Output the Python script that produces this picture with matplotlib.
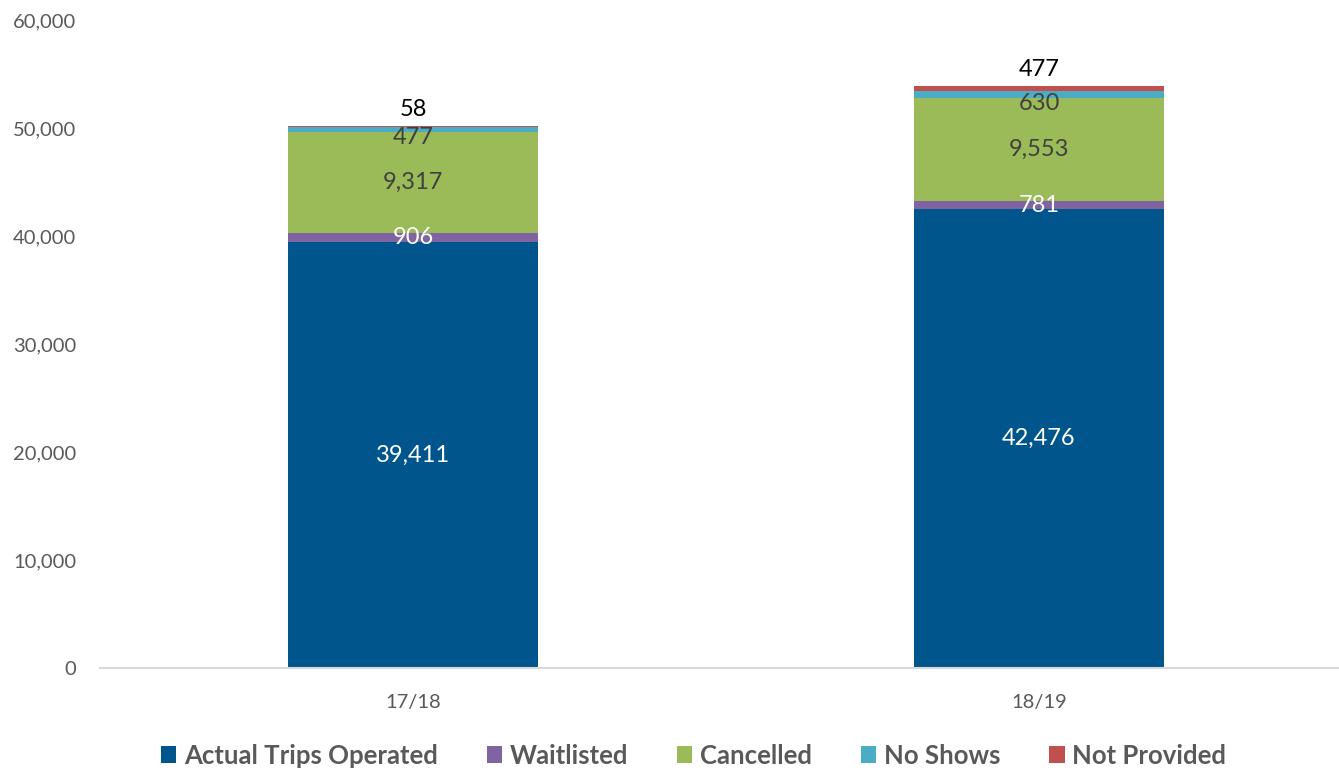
import numpy as np
import matplotlib.pyplot as plt

plt.rcParams['font.family'] = ['Lato', 'DejaVu Sans']

years = ["17/18", "18/19"]
series = ["Actual Trips Operated", "Waitlisted", "Cancelled", "No Shows", "Not Provided"]
actual = [39411, 42476]
waitlisted = [906, 781]
cancelled = [9317, 9553]
no_shows = [477, 630]
not_provided = [58, 477]

values = [actual, waitlisted, cancelled, no_shows, not_provided]
colors = ["#00558C", "#8064A2", "#9BBB59", "#4BACC6", "#C0504D"]
label_colors = ["white", "white", "#404040", "#404040", "black"]

fig = plt.figure(figsize=(13.39, 7.70), dpi=100)
ax = fig.add_axes([100 / 1339, 1 - 668 / 770, 1 - 100 / 1339, (668 - 20) / 770])

x = np.arange(len(years))
bottom = np.zeros(len(years))
for name, vals, c, lc in zip(series, values, colors, label_colors):
    vals = np.array(vals)
    ax.bar(x, vals, 0.4, bottom=bottom, color=c, label=name)
    for xi, b, v in zip(x, bottom, vals):
        if name == "Not Provided":
            # label sits above the stack
            ax.annotate(f"{v:,}", (xi, b + v), xytext=(0, 12), textcoords="offset points",
                        ha="center", va="center", color=lc, fontsize=17)
        elif name == "No Shows":
            # thin segment: label pushed just below it
            ax.annotate(f"{v:,}", (xi, b), xytext=(0, -4), textcoords="offset points",
                        ha="center", va="center", color=lc, fontsize=17)
        else:
            ax.text(xi, b + v / 2, f"{v:,}", ha="center", va="center", color=lc, fontsize=17)
    bottom = bottom + vals

ax.set_xlim(-0.5, (1339 - 413) / 626)
ax.set_ylim(0, 60000)
ax.set_yticks(range(0, 60001, 10000))
ax.yaxis.set_major_formatter(plt.FuncFormatter(lambda v, p: f"{int(v):,}"))
ax.set_xticks(x)
ax.set_xticklabels(years)
ax.tick_params(axis="both", length=0, labelsize=14.5, colors="#595959")
ax.tick_params(axis="y", pad=17)
ax.tick_params(axis="x", pad=19)
for s in ["top", "right", "left"]:
    ax.spines[s].set_visible(False)
ax.spines["bottom"].set_color("#D9D9D9")
ax.spines["bottom"].set_linewidth(1.5)

leg = fig.legend(loc="lower center", bbox_to_anchor=(0.518, -0.027), ncol=5, frameon=False,
                 handlelength=0.6, handleheight=0.6, handletextpad=0.3, columnspacing=1.9,
                 prop={"size": 18.5, "weight": "bold"})
for t in leg.get_texts():
    t.set_color("#595959")

fig.savefig("out.png", dpi=100)
